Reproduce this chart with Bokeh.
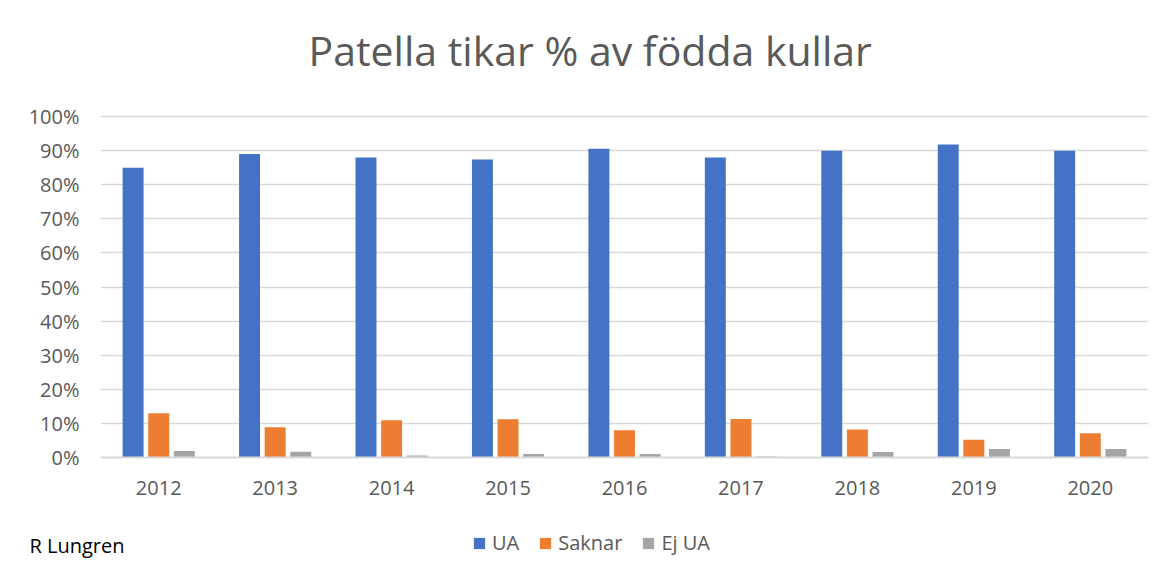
from bokeh.plotting import figure
from bokeh.layouts import column
from bokeh.models import (ColumnDataSource, FactorRange, Legend, LegendItem,
                          NumeralTickFormatter, FixedTicker, Range1d)
from bokeh.transform import dodge
from bokeh.embed import file_html
from bokeh.resources import INLINE

years = ["2012", "2013", "2014", "2015", "2016", "2017", "2018", "2019", "2020"]
ua = [0.85, 0.89, 0.88, 0.874, 0.906, 0.88, 0.90, 0.918, 0.90]
saknar = [0.13, 0.089, 0.109, 0.112, 0.080, 0.113, 0.082, 0.052, 0.071]
ej_ua = [0.019, 0.017, 0.006, 0.010, 0.010, 0.003, 0.016, 0.025, 0.025]
y_ticks = [0, 0.1, 0.2, 0.3, 0.4, 0.5, 0.6, 0.7, 0.8, 0.9, 1.0]
series = ["UA", "Saknar", "Ej UA"]
colors = ["#4472C4", "#ED7D31", "#A5A5A5"]
title_text = "Patella tikar % av födda kullar"
credit_text = "R Lungren"

FONT = "Open Sans"
TXT = "#595959"

src = ColumnDataSource(dict(years=years, ua=ua, saknar=saknar, ej_ua=ej_ua))

p = figure(x_range=FactorRange(*years, range_padding=0), y_range=Range1d(0, 1.1),
           width=1162, height=505, output_backend="svg", toolbar_location=None,
           min_border_left=100, min_border_right=14, min_border_top=82, min_border_bottom=48)

p.title.text = title_text
p.title.text_font = FONT
p.title.text_font_size = "41px"
p.title.text_font_style = "normal"
p.title.text_color = TXT
p.title.align = "left"
p.title.offset = 208
p.title.standoff = 10

w = 0.18
offsets = [-0.22, 0.0, 0.22]
cols = ["ua", "saknar", "ej_ua"]
for c, off, col in zip(cols, offsets, colors):
    p.vbar(x=dodge("years", off, range=p.x_range), top=c, width=w, source=src,
           fill_color=col, line_color=None)

p.outline_line_color = None
p.xgrid.grid_line_color = None
p.ygrid.grid_line_color = "#d9d9d9"
p.ygrid.grid_line_width = 1.5
p.ygrid.ticker = FixedTicker(ticks=y_ticks)
p.yaxis.ticker = FixedTicker(ticks=y_ticks)
p.yaxis.formatter = NumeralTickFormatter(format="0%")
p.yaxis.axis_line_color = None
p.yaxis.major_tick_line_color = None
p.yaxis.minor_tick_line_color = None
p.yaxis.major_label_standoff = 15
p.xaxis.axis_line_color = "#d9d9d9"
p.xaxis.axis_line_width = 2
p.xaxis.major_tick_line_color = None
p.xaxis.minor_tick_line_color = None
p.xaxis.major_label_standoff = 17
for ax in (p.xaxis, p.yaxis):
    ax.major_label_text_font = FONT
    ax.major_label_text_font_size = "20px"
    ax.major_label_text_color = TXT

# bottom strip: legend (inside frame) and author credit (as horizontal axis label)
p2 = figure(width=1162, height=62, x_range=Range1d(0, 1), y_range=Range1d(0, 1),
            output_backend="svg", toolbar_location=None, x_axis_type=None,
            min_border_left=100, min_border_right=14, min_border_top=17, min_border_bottom=0)
p2.outline_line_color = None
p2.grid.grid_line_color = None
p2.yaxis.ticker = FixedTicker(ticks=[])
p2.yaxis.axis_line_color = None
p2.yaxis.major_tick_out = 0
p2.yaxis.major_tick_in = 0
p2.yaxis.minor_tick_out = 0
p2.yaxis.minor_tick_in = 0
p2.yaxis.major_label_standoff = 0
p2.yaxis.axis_label = credit_text
p2.yaxis.axis_label_orientation = "horizontal"
p2.yaxis.axis_label_standoff = -24
p2.yaxis.axis_label_text_font = FONT
p2.yaxis.axis_label_text_font_size = "20px"
p2.yaxis.axis_label_text_font_style = "normal"
p2.yaxis.axis_label_text_color = "#000000"

items = []
nan = float("nan")
for name, col in zip(series, colors):
    r = p2.vbar(x=[nan], top=[nan], width=0.1, fill_color=col, line_color=None)
    items.append(LegendItem(label=name, renderers=[r]))
legend = Legend(items=items, orientation="horizontal", location=(372, 11),
                label_text_font=FONT, label_text_font_size="20px", label_text_color=TXT,
                glyph_width=14, glyph_height=14, spacing=19, label_standoff=6,
                border_line_color=None, background_fill_alpha=0, margin=0, padding=4)
p2.add_layout(legend, "center")

layout = column(p, p2, spacing=0)
open("out.html", "w").write(file_html(layout, INLINE))
